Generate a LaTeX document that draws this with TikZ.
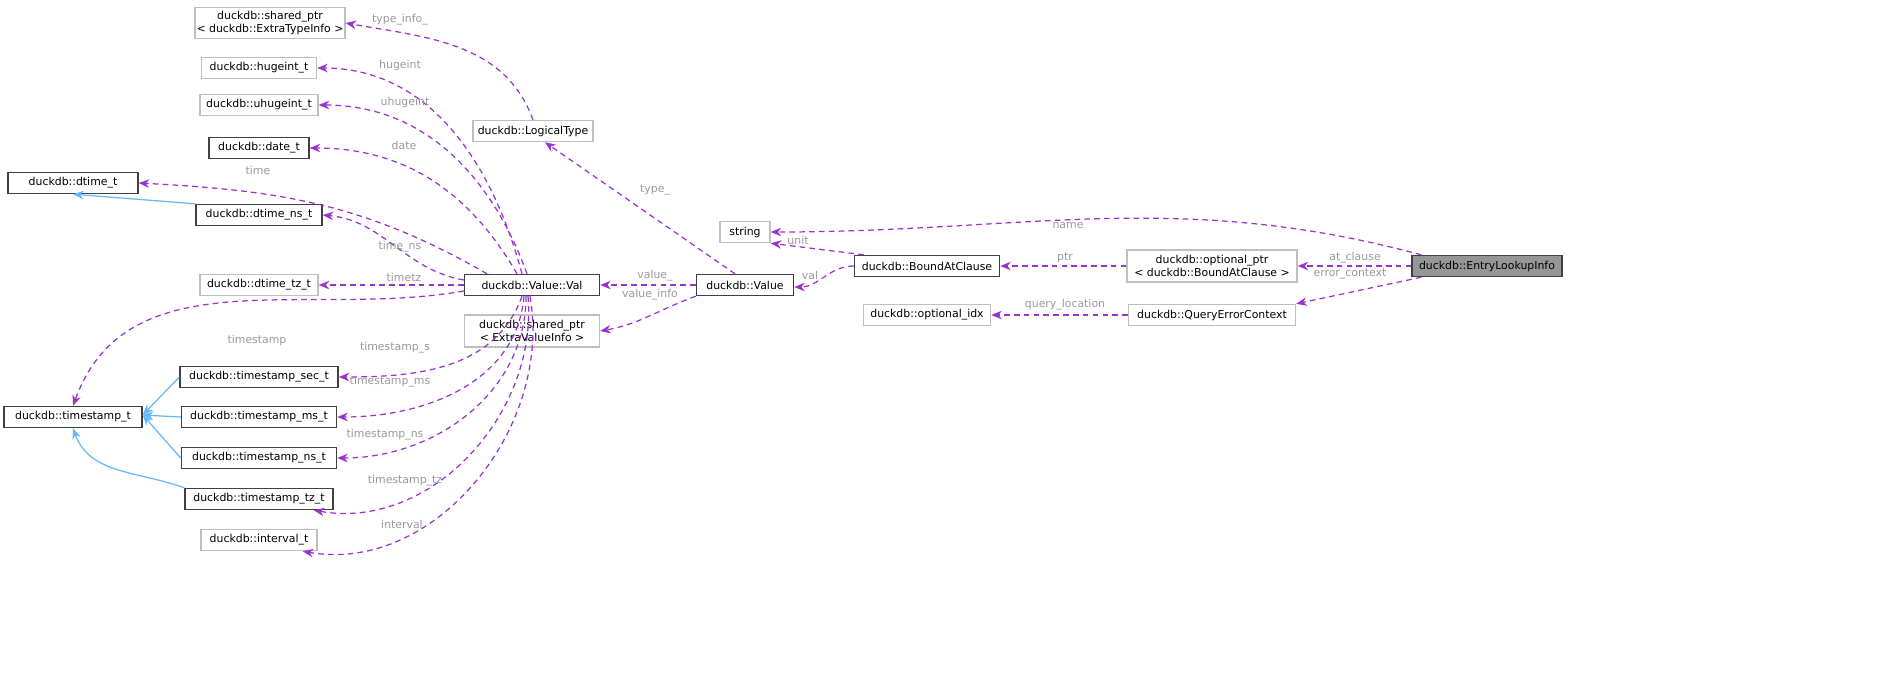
\documentclass[tikz,border=0pt]{standalone}
\usepackage{fontspec}
\setmainfont{DejaVu Sans}
\usetikzlibrary{positioning,calc,arrows.meta}
\definecolor{edgep}{HTML}{9A32CD}
\definecolor{edgeb}{HTML}{63B8FF}
\definecolor{lblc}{HTML}{9A9A9A}
\definecolor{boxg}{HTML}{BFBFBF}
\definecolor{boxd}{HTML}{404040}
\tikzset{
  cls/.style={draw=boxd,fill=white,minimum height=0.21cm,inner sep=0.4pt,font=\fontsize{3.1}{3.6}\selectfont,align=center},
  ext/.style={cls,draw=boxg},
  mem/.style={-{Stealth[length=3pt,width=2.4pt]},edgep,dashed,dash pattern=on 1.6pt off 1.2pt,line width=0.35pt},
  inh/.style={-{Stealth[length=3pt,width=2.4pt]},edgeb,line width=0.35pt},
  lbl/.style={lblc,font=\fontsize{3.1}{3.6}\selectfont,inner sep=0pt}
}
\begin{document}
\begin{tikzpicture}
\useasboundingbox[fill=white] (0,0) rectangle (18.93,-6.83);
% classes
\node[ext,minimum width=1.40cm,minimum height=0.31cm] (spti) at (2.70,-0.23) {duckdb::shared\_ptr\\< duckdb::ExtraTypeInfo >};
\node[ext,minimum width=1.15cm] (hug) at (2.59,-0.68) {duckdb::hugeint\_t};
\node[ext,minimum width=1.18cm] (uhug) at (2.59,-1.05) {duckdb::uhugeint\_t};
\node[cls,minimum width=1.00cm] (date) at (2.59,-1.48) {duckdb::date\_t};
\node[cls,minimum width=1.30cm] (dtime) at (0.73,-1.83) {duckdb::dtime\_t};
\node[cls,minimum width=1.26cm] (dtns) at (2.59,-2.15) {duckdb::dtime\_ns\_t};
\node[ext,minimum width=1.18cm] (dttz) at (2.59,-2.85) {duckdb::dtime\_tz\_t};
\node[cls,minimum width=1.38cm] (ts) at (0.73,-4.17) {duckdb::timestamp\_t};
\node[cls,minimum width=1.58cm] (tssec) at (2.59,-3.77) {duckdb::timestamp\_sec\_t};
\node[cls,minimum width=1.55cm] (tsms) at (2.59,-4.17) {duckdb::timestamp\_ms\_t};
\node[cls,minimum width=1.55cm] (tsns) at (2.59,-4.58) {duckdb::timestamp\_ns\_t};
\node[cls,minimum width=1.48cm] (tstz) at (2.59,-4.99) {duckdb::timestamp\_tz\_t};
\node[ext,minimum width=1.16cm] (intv) at (2.59,-5.40) {duckdb::interval\_t};
\node[ext,minimum width=1.20cm] (lt) at (5.33,-1.31) {duckdb::LogicalType};
\node[cls,minimum width=1.35cm] (val) at (5.32,-2.85) {duckdb::Value::Val};
\node[ext,minimum width=1.35cm,minimum height=0.32cm] (spvi) at (5.32,-3.31) {duckdb::shared\_ptr\\< ExtraValueInfo >};
\node[cls,minimum width=0.97cm] (value) at (7.45,-2.85) {duckdb::Value};
\node[ext,minimum width=0.50cm] (str) at (7.45,-2.32) {string};
\node[cls,minimum width=1.45cm] (bac) at (9.27,-2.66) {duckdb::BoundAtClause};
\node[ext,minimum width=1.70cm,minimum height=0.32cm] (optr) at (12.12,-2.66) {duckdb::optional\_ptr\\< duckdb::BoundAtClause >};
\node[ext,minimum width=1.27cm] (oidx) at (9.27,-3.15) {duckdb::optional\_idx};
\node[ext,minimum width=1.67cm] (qec) at (12.12,-3.15) {duckdb::QueryErrorContext};
\node[cls,fill=boxd!55,minimum width=1.50cm] (eli) at (14.87,-2.66) {duckdb::EntryLookupInfo};
% inheritance
\draw[inh] (dtns.north west) -- (dtime.south);
\foreach \x in {tssec,tsms,tsns}
  \draw[inh] (\x.west) -- ($(ts.east)+(0,0.02)$);
\draw[inh] (tstz.north west) to[out=160,in=-70] (ts.south);
% members
\draw[mem] (lt.north) to[out=110,in=-10] (spti.east);
\draw[mem] ($(val.north)+(-0.10,0)$) to[out=105,in=0] (hug.east);
\draw[mem] ($(val.north)+(-0.05,0)$) to[out=110,in=0] (uhug.east);
\draw[mem] ($(val.north)+(-0.15,0)$) to[out=120,in=0] (date.east);
\draw[mem] ($(val.north)+(-0.45,0)$) to[out=150,in=-3] (dtime.east);
\draw[mem] ($(val.west)+(0,0.05)$) to[out=170,in=-5] (dtns.east);
\draw[mem] (val.west) -- (dttz.east);
\draw[mem] ($(val.west)+(0,-0.06)$) to[out=190,in=70] (ts.north);
\draw[mem] ($(val.south)+(-0.10,0)$) to[out=-110,in=0] (tssec.east);
\draw[mem] ($(val.south)+(-0.08,0)$) to[out=-95,in=0] (tsms.east);
\draw[mem] ($(val.south)+(-0.06,0)$) to[out=-90,in=0] (tsns.east);
\draw[mem] ($(val.south)+(-0.04,0)$) to[out=-85,in=-10] ($(tstz.south east)+(-0.2,0)$);
\draw[mem] ($(val.south)+(-0.02,0)$) to[out=-80,in=-10] ($(intv.south east)+(-0.15,0)$);
\draw[mem] ($(value.north)+(-0.10,0)$) -- ($(lt.south)+(0.12,0)$);
\draw[mem] (value.west) -- (val.east);
\draw[mem] (value.south west) to[out=-160,in=10] (spvi.east);
\draw[mem] ($(bac.north west)+(0.1,0)$) -- (str.south east);
\draw[mem] (bac.west) to[out=180,in=0] ($(value.east)+(0,-0.02)$);
\draw[mem] (optr.west) -- (bac.east);
\draw[mem] ($(eli.north west)+(0.1,0)$) to[out=165,in=0] (str.east);
\draw[mem] (eli.west) -- (optr.east);
\draw[mem] ($(eli.south west)+(0.1,0)$) -- (qec.north east);
\draw[mem] (qec.west) -- (oidx.east);
% labels
\node[lbl] at (4.00,-0.20) {type\_info\_};
\node[lbl] at (4.00,-0.65) {hugeint};
\node[lbl] at (4.05,-1.02) {uhugeint};
\node[lbl] at (4.04,-1.45) {date};
\node[lbl] at (2.58,-1.70) {time};
\node[lbl] at (4.00,-2.47) {time\_ns};
\node[lbl] at (4.04,-2.77) {timetz};
\node[lbl] at (2.57,-3.40) {timestamp};
\node[lbl] at (3.95,-3.48) {timestamp\_s};
\node[lbl] at (3.90,-3.82) {timestamp\_ms};
\node[lbl] at (3.85,-4.35) {timestamp\_ns};
\node[lbl] at (4.05,-4.81) {timestamp\_tz};
\node[lbl] at (4.02,-5.24) {interval};
\node[lbl] at (6.55,-1.90) {type\_};
\node[lbl] at (6.55,-2.76) {value\_};
\node[lbl] at (6.50,-2.95) {value\_info};
\node[lbl] at (7.98,-2.40) {unit};
\node[lbl] at (8.10,-2.75) {val};
\node[lbl] at (10.68,-2.26) {name};
\node[lbl] at (10.65,-2.58) {ptr};
\node[lbl] at (13.55,-2.58) {at\_clause};
\node[lbl] at (13.50,-2.74) {error\_context};
\node[lbl] at (10.65,-3.05) {query\_location};
\end{tikzpicture}
\end{document}
